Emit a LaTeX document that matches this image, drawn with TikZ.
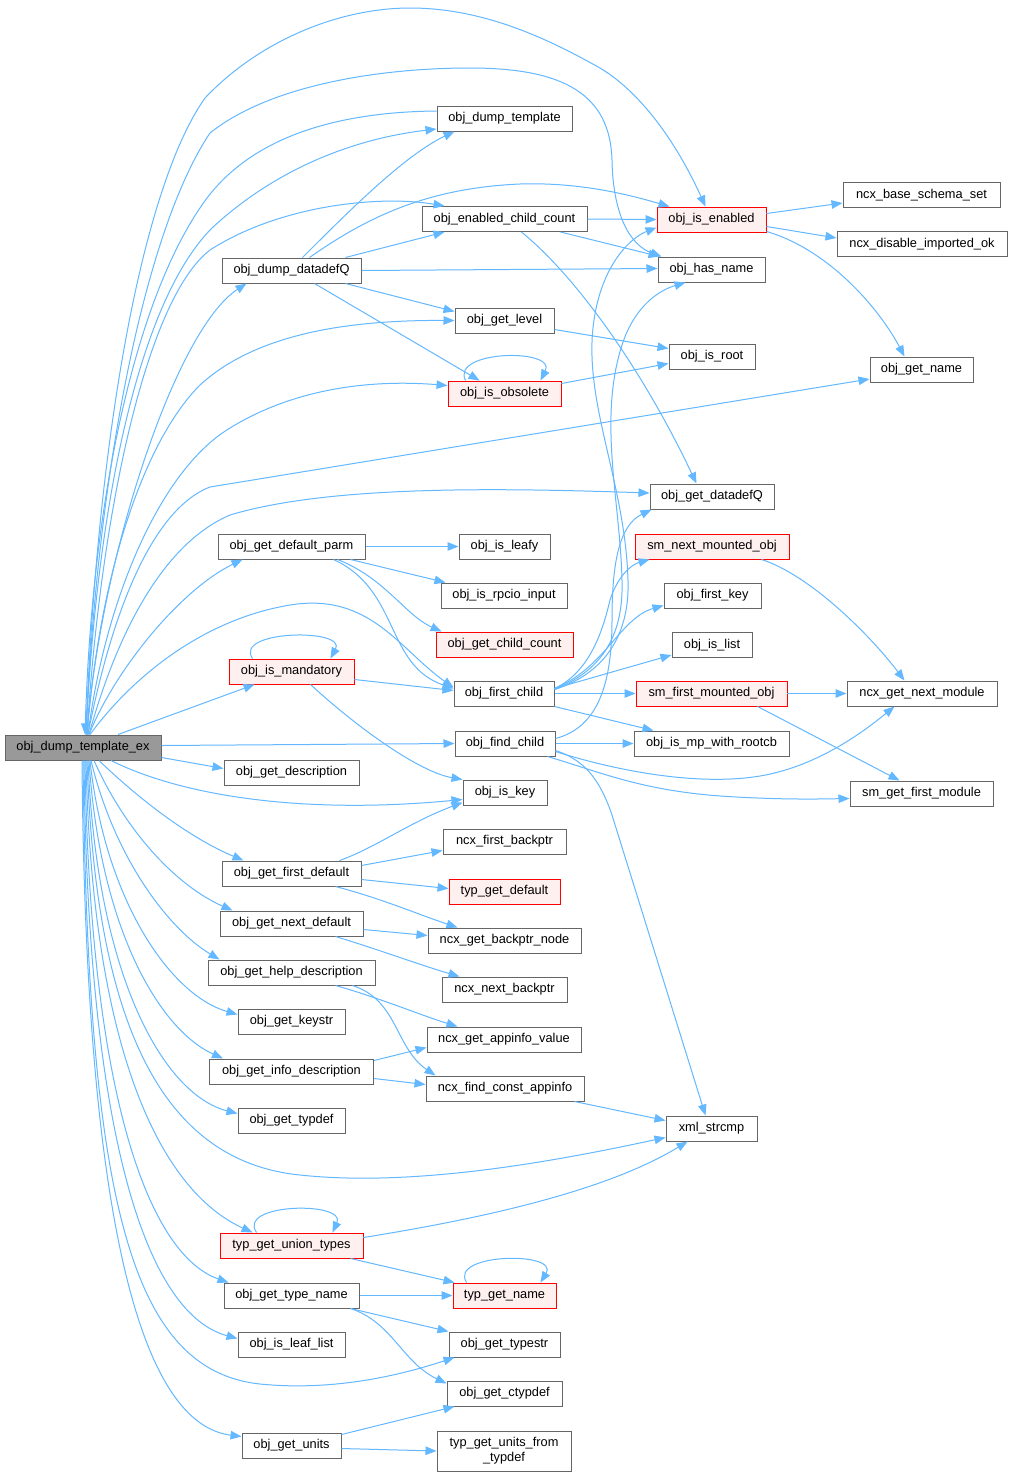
\documentclass[tikz,border=0pt]{standalone}
\usepackage{fontspec}
\setmainfont{Liberation Sans}
\usetikzlibrary{arrows.meta}
\definecolor{edgeblue}{HTML}{63B8FF}
\definecolor{boxgray}{HTML}{666666}
\definecolor{rootfill}{HTML}{999999}
\definecolor{hlfill}{HTML}{FFF0F0}
\definecolor{hldraw}{HTML}{FF0000}
\newcommand\dgfont{\fontsize{12.8pt}{15pt}\selectfont}
\begin{document}
\begin{tikzpicture}[x=1pt,y=-1pt,
  box/.style={draw=boxgray,fill=white,line width=1pt,inner sep=0pt,minimum height=25pt,font=\dgfont},
  hilite/.style={box,draw=hldraw,fill=hlfill,line width=0.9pt},
  rootbox/.style={box,fill=rootfill},
  edge/.style={draw=edgeblue,line width=1pt,-{Triangle[length=11pt,width=8.5pt]}}]
\fill[white] (0,0) rectangle (1012,1478);
\useasboundingbox (0,0) rectangle (1012,1478);

% nodes
\node[rootbox,minimum width=156pt] (root) at (83,747.5) {obj\_dump\_template\_ex};
\node[box,minimum width=135pt] (dt) at (504.5,118.5) {obj\_dump\_template};
\node[box,minimum width=165pt] (ecc) at (504.5,219) {obj\_enabled\_child\_count};
\node[box,minimum width=139pt] (dq) at (291.5,270.5) {obj\_dump\_datadefQ};
\node[hilite,minimum width=109pt] (ie) at (711.5,219.5) {obj\_is\_enabled};
\node[box,minimum width=157pt] (nbs) at (921.5,195) {ncx\_base\_schema\_set};
\node[box,minimum width=170pt] (ndi) at (922,244) {ncx\_disable\_imported\_ok};
\node[box,minimum width=107pt] (hn) at (711.5,269.5) {obj\_has\_name};
\node[box,minimum width=99pt] (gl) at (504.5,320.5) {obj\_get\_level};
\node[box,minimum width=86pt] (ir) at (712,356.5) {obj\_is\_root};
\node[box,minimum width=103pt] (gn) at (921.5,369.5) {obj\_get\_name};
\node[hilite,minimum width=113pt] (obs) at (504.5,393.5) {obj\_is\_obsolete};
\node[box,minimum width=124pt] (gdq) at (712,496.5) {obj\_get\_datadefQ};
\node[box,minimum width=147pt] (gdp) at (291.5,546.5) {obj\_get\_default\_parm};
\node[box,minimum width=91pt] (il) at (504.5,546.5) {obj\_is\_leafy};
\node[hilite,minimum width=154pt] (snm) at (712,546.5) {sm\_next\_mounted\_obj};
\node[box,minimum width=126pt] (iri) at (504,595.5) {obj\_is\_rpcio\_input};
\node[box,minimum width=97pt] (fk) at (712.5,595.5) {obj\_first\_key};
\node[hilite,minimum width=137pt] (gcc) at (504.5,644.5) {obj\_get\_child\_count};
\node[box,minimum width=80pt] (isl) at (712,645) {obj\_is\_list};
\node[hilite,minimum width=125pt] (im) at (291.5,671.5) {obj\_is\_mandatory};
\node[box,minimum width=100pt] (fc) at (504,693.5) {obj\_first\_child};
\node[hilite,minimum width=151pt] (sfm) at (711.5,693.5) {sm\_first\_mounted\_obj};
\node[box,minimum width=150pt] (ngm) at (922,693.5) {ncx\_get\_next\_module};
\node[box,minimum width=100pt] (fcd) at (505,743.5) {obj\_find\_child};
\node[box,minimum width=155pt] (mpr) at (711.5,743.5) {obj\_is\_mp\_with\_rootcb};
\node[box,minimum width=135pt] (gdesc) at (291.5,772.5) {obj\_get\_description};
\node[box,minimum width=84pt] (ik) at (505,792.5) {obj\_is\_key};
\node[box,minimum width=143pt] (sgf) at (921.5,793.5) {sm\_get\_first\_module};
\node[box,minimum width=123pt] (nfb) at (504.5,841.5) {ncx\_first\_backptr};
\node[box,minimum width=139pt] (gfd) at (291.5,873.5) {obj\_get\_first\_default};
\node[hilite,minimum width=111pt] (tgd) at (504.5,891.5) {typ\_get\_default};
\node[box,minimum width=143pt] (gnd) at (291.5,923.5) {obj\_get\_next\_default};
\node[box,minimum width=153pt] (gbn) at (504.5,940.5) {ncx\_get\_backptr\_node};
\node[box,minimum width=167pt] (ghd) at (291.5,972.5) {obj\_get\_help\_description};
\node[box,minimum width=125pt] (nnb) at (504.5,989.5) {ncx\_next\_backptr};
\node[box,minimum width=107pt] (gk) at (291.5,1021.5) {obj\_get\_keystr};
\node[box,minimum width=154pt] (gav) at (504,1039.5) {ncx\_get\_appinfo\_value};
\node[box,minimum width=164pt] (gid) at (291.5,1071.5) {obj\_get\_info\_description};
\node[box,minimum width=158pt] (fca) at (505,1088.5) {ncx\_find\_const\_appinfo};
\node[box,minimum width=107pt] (gtd) at (291.5,1120.5) {obj\_get\_typdef};
\node[box,minimum width=91pt] (xs) at (711.5,1128.5) {xml\_strcmp};
\node[hilite,minimum width=143pt] (tgu) at (291.5,1245.5) {typ\_get\_union\_types};
\node[hilite,minimum width=103pt] (tgn) at (504.5,1295.5) {typ\_get\_name};
\node[box,minimum width=135pt] (gtn) at (291.5,1295.5) {obj\_get\_type\_name};
\node[box,minimum width=111pt] (gts) at (504.5,1344.5) {obj\_get\_typestr};
\node[box,minimum width=107pt] (ill) at (291.5,1344.5) {obj\_is\_leaf\_list};
\node[box,minimum width=115pt] (gct) at (504.5,1393.5) {obj\_get\_ctypdef};
\node[box,minimum width=99pt] (gu) at (291.5,1445.5) {obj\_get\_units};
\node[box,minimum width=134pt,minimum height=40pt,align=center] (tuf) at (504,1451) {typ\_get\_units\_from\\\_typdef};

% edges from root, upward
\draw[edge] ([xshift=3pt]root.north) .. controls (96,450) and (140,190) .. (205,98) .. controls (260,40) and (340,8) .. (410,8) .. controls (485,8) and (550,40) .. (600,68) .. controls (645,95) and (680,150) .. ([xshift=-6pt]ie.north);
\draw[edge] ([xshift=3pt]root.north) .. controls (97,470) and (145,230) .. (210,133) .. controls (270,85) and (380,68) .. (470,68) .. controls (565,68) and (610,95) .. (612,160) .. controls (613,215) and (630,245) .. ([xshift=4pt]hn.north west);
\draw[edge] ([yshift=7.5pt]dt.west) .. controls (340,112) and (255,135) .. (207,198) .. controls (135,295) and (92,500) .. ([xshift=2pt]root.north);
\draw[edge] ([xshift=3pt]root.north) .. controls (97,500) and (140,300) .. (212,228) .. controls (280,165) and (360,138) .. ([yshift=-10.5pt]dt.west);
\draw[edge] ([xshift=4pt]root.north) .. controls (100,520) and (145,300) .. (210,250) .. controls (280,205) and (380,195) .. ([xshift=23pt]ecc.north west);
\draw[edge] ([xshift=4pt]root.north) .. controls (100,560) and (175,330) .. ([xshift=25pt]dq.south west);
\draw[edge] ([xshift=4pt]root.north) .. controls (100,570) and (145,440) .. (200,385) .. controls (260,330) and (360,320) .. (gl.west);
\draw[edge] ([xshift=5pt]root.north) .. controls (105,600) and (160,470) .. (230,428) .. controls (300,385) and (380,380) .. ([yshift=8pt]obs.west);
\draw[edge] ([xshift=5pt]root.north) .. controls (110,620) and (150,510) .. (210,487) -- ([yshift=-9.5pt]gn.west);
\draw[edge] ([xshift=6pt]root.north) .. controls (115,640) and (160,545) .. (230,515) .. controls (330,485) and (500,488) .. ([yshift=3.5pt]gdq.west);
\draw[edge] ([xshift=6pt]root.north) .. controls (115,670) and (180,590) .. ([xshift=25pt]gdp.south west);
\draw[edge] ([xshift=7pt]root.north) .. controls (130,680) and (200,620) .. (290,605) .. controls (370,592) and (400,650) .. ([yshift=6pt]fc.west);
\draw[edge] ([xshift=35pt]root.north) -- ([xshift=26pt]im.south west);
\draw[edge] ([yshift=2pt]root.east) -- (fcd.west);
% edges from root, downward
\draw[edge] ([yshift=-10pt]root.east) -- ([yshift=4pt]gdesc.west);
\draw[edge] ([xshift=28pt]root.south) .. controls (180,795) and (300,815) .. ([yshift=-7pt]ik.west);
\draw[edge] ([xshift=16pt]root.south) .. controls (140,800) and (190,838) .. ([xshift=22pt]gfd.north west);
\draw[edge] ([xshift=11pt]root.south) .. controls (125,830) and (175,885) .. ([xshift=13pt]gnd.north west);
\draw[edge] ([xshift=8pt]root.south) .. controls (115,860) and (170,930) .. ([xshift=12pt]ghd.north west);
\draw[edge] ([xshift=7pt]root.south) .. controls (105,900) and (170,995) .. ([yshift=7pt]gk.west);
\draw[edge] ([xshift=6pt]root.south) .. controls (100,930) and (160,1030) .. ([xshift=14pt]gid.north west);
\draw[edge] ([xshift=5pt]root.south) .. controls (97,980) and (165,1095) .. ([yshift=7pt]gtd.west);
\draw[edge] ([xshift=4pt]root.south) .. controls (95,1000) and (150,1160) .. (300,1175) .. controls (420,1188) and (570,1158) .. ([yshift=-9pt]xs.west);
\draw[edge] ([xshift=3pt]root.south) .. controls (92,1050) and (160,1190) .. ([xshift=33pt]tgu.north west);
\draw[edge] ([xshift=2pt]root.south) .. controls (90,1100) and (150,1255) .. ([xshift=5pt]gtn.north west);
\draw[edge] ([xshift=1pt]root.south) .. controls (88,1150) and (150,1315) .. ([yshift=6pt]ill.west);
\draw[edge] (root.south) .. controls (88,1200) and (130,1370) .. (260,1384) .. controls (340,1392) and (410,1372) .. ([xshift=6pt]gts.south west);
\draw[edge] ([xshift=-1pt]root.south) .. controls (86,1260) and (150,1425) .. ([yshift=9pt]gu.west);

% obj_dump_datadefQ
\draw[edge] ([xshift=81pt]dq.north west) .. controls (350,210) and (405,155) .. ([xshift=18pt]dt.south west);
\draw[edge] ([xshift=88pt]dq.north west) .. controls (370,215) and (430,188) .. (520,184) .. controls (580,182) and (630,195) .. ([xshift=13pt]ie.north west);
\draw[edge] ([xshift=-16pt]dq.north east) -- ([xshift=23pt]ecc.south west);
\draw[edge] (dq.east) -- ([yshift=1pt]hn.west);
\draw[edge] ([xshift=-16pt]dq.south east) -- ([yshift=9pt]gl.west);
\draw[edge] ([xshift=93pt]dq.south west) -- ([xshift=32pt]obs.north west);

% obj_enabled_child_count
\draw[edge] (ecc.east) -- (ie.west);
\draw[edge] ([xshift=-27pt]ecc.south east) -- ([xshift=2pt]hn.north west);
\draw[edge] ([xshift=100pt]ecc.south west) .. controls (580,280) and (645,375) .. ([xshift=47pt]gdq.north west);

% obj_is_enabled
\draw[edge] ([yshift=6pt]ie.east) -- ([yshift=-8pt]nbs.west);
\draw[edge] ([yshift=-7pt]ie.east) -- ([yshift=6pt]ndi.west);
\draw[edge] ([yshift=1pt]ie.south east) .. controls (830,250) and (880,310) .. ([xshift=35pt]gn.north west);

% obj_get_level, obj_is_obsolete
\draw[edge] ([yshift=-9pt]gl.east) -- ([yshift=8pt]ir.west);
\draw[edge] ([yshift=10pt]obs.east) -- ([yshift=-7pt]ir.west);
\draw[edge] ([xshift=18pt]obs.north west) .. controls (450,350) and (557,348) .. ([xshift=-21pt]obs.north east);

% obj_get_default_parm
\draw[edge] (gdp.east) -- (il.west);
\draw[edge] ([xshift=-15pt]gdp.south east) -- ([xshift=5pt]iri.north west);
\draw[edge] ([xshift=-28pt]gdp.south east) .. controls (385,578) and (405,615) .. ([xshift=6pt]gcc.north west);
\draw[edge] ([xshift=-32pt]gdp.south east) .. controls (400,590) and (385,665) .. ([yshift=5pt]fc.west);

% obj_is_mandatory
\draw[edge] ([yshift=-8pt]im.east) -- ([yshift=3pt]fc.west);
\draw[edge] ([xshift=-44pt]im.south east) .. controls (360,730) and (420,772) .. (ik.north west);
\draw[edge] ([xshift=24pt]im.north west) .. controls (233,630) and (347,628) .. ([xshift=-24pt]im.north east);

% obj_first_child
\draw[edge] ([yshift=4pt]fc.east) .. controls (600,675) and (630,640) .. (628,580) .. controls (625,480) and (582,400) .. (594,320) .. controls (602,265) and (630,238) .. ([yshift=-8pt]ie.west);
\draw[edge] ([yshift=4pt]fc.east) .. controls (598,672) and (624,640) .. (622,580) .. controls (620,500) and (598,420) .. (622,345) .. controls (635,305) and (660,290) .. ([xshift=28pt]hn.south west);
\draw[edge] ([yshift=5pt]fc.east) .. controls (590,672) and (603,630) .. (610,600) .. controls (617,578) and (630,565) .. ([xshift=15pt]snm.south west);
\draw[edge] ([yshift=5pt]fc.east) .. controls (605,668) and (620,618) .. ([yshift=-10pt]fk.west);
\draw[edge] ([yshift=5pt]fc.east) -- ([yshift=-10pt]isl.west);
\draw[edge] (fc.east) -- (sfm.west);
\draw[edge] (fc.south east) -- ([xshift=20pt]mpr.north west);

% obj_find_child
\draw[edge] ([yshift=5pt]fcd.east) .. controls (595,728) and (612,690) .. (612,620) .. controls (612,560) and (620,525) .. ([xshift=2pt]gdq.south west);
\draw[edge] (fcd.east) -- (mpr.west);
\draw[edge] ([yshift=-8pt]fcd.east) .. controls (620,772) and (700,786) .. (760,776) .. controls (820,766) and (868,728) .. ([xshift=48pt]ngm.south west);
\draw[edge] ([xshift=-8pt]fcd.south east) .. controls (600,772) and (640,790) .. (720,796) .. controls (780,800) and (820,799) .. ([yshift=-5pt]sgf.west);
\draw[edge] ([yshift=-7pt]fcd.east) .. controls (585,760) and (600,780) .. (612,815) -- ([xshift=40pt]xs.north west);

% mounted objects
\draw[edge] ([xshift=-28pt]snm.south east) .. controls (810,575) and (870,635) .. ([xshift=58pt]ngm.north west);
\draw[edge] (sfm.east) -- (ngm.west);
\draw[edge] ([xshift=-30pt]sfm.south east) -- ([xshift=50pt]sgf.north west);

% obj_get_first_default
\draw[edge] ([xshift=-22pt]gfd.north east) .. controls (375,848) and (410,822) .. ([yshift=-10pt]ik.west);
\draw[edge] ([yshift=8pt]gfd.east) -- ([yshift=-9pt]nfb.west);
\draw[edge] ([yshift=-6pt]gfd.east) -- ([yshift=3pt]tgd.west);
\draw[edge] ([xshift=-26pt]gfd.south east) .. controls (380,898) and (420,915) .. ([xshift=30pt]gbn.north west);

% obj_get_next_default
\draw[edge] ([yshift=-6pt]gnd.east) -- ([yshift=5pt]gbn.west);
\draw[edge] ([xshift=-28pt]gnd.south east) .. controls (380,950) and (420,965) .. ([xshift=18pt]nnb.north west);

% obj_get_help_description
\draw[edge] ([xshift=-40pt]ghd.south east) .. controls (380,998) and (420,1015) .. ([xshift=31pt]gav.north west);
\draw[edge] ([xshift=-23pt]ghd.south east) .. controls (398,1000) and (395,1048) .. ([xshift=10pt]fca.north west);

% obj_get_info_description
\draw[edge] ([yshift=11pt]gid.east) -- ([yshift=-8pt]gav.west);
\draw[edge] ([yshift=-7pt]gid.east) -- ([yshift=4pt]fca.west);

% ncx_find_const_appinfo
\draw[edge] ([xshift=-10pt]fca.south east) -- ([yshift=8pt]xs.west);

% typ_get_union_types
\draw[edge] ([xshift=37pt]tgu.north west) .. controls (236,1203) and (347,1201) .. ([xshift=-31pt]tgu.north east);
\draw[edge] ([yshift=8pt]tgu.east) .. controls (460,1222) and (600,1195) .. ([xshift=22pt]xs.south west);
\draw[edge] ([xshift=-13pt]tgu.south east) -- ([xshift=2pt]tgn.north west);

% typ_get_name loop
\draw[edge] ([xshift=14pt]tgn.north west) .. controls (448,1253) and (560,1251) .. ([xshift=-16pt]tgn.north east);

% obj_get_type_name
\draw[edge] (gtn.east) -- (tgn.west);
\draw[edge] ([xshift=-9pt]gtn.south east) -- (gts.north west);
\draw[edge] ([xshift=-9pt]gtn.south east) .. controls (392,1322) and (402,1362) .. ([yshift=10pt]gct.west);

% obj_get_units
\draw[edge] ([yshift=-2pt]gu.north east) -- ([xshift=8pt]gct.south west);
\draw[edge] ([yshift=-3pt]gu.east) -- (tuf.west);
\end{tikzpicture}
\end{document}
